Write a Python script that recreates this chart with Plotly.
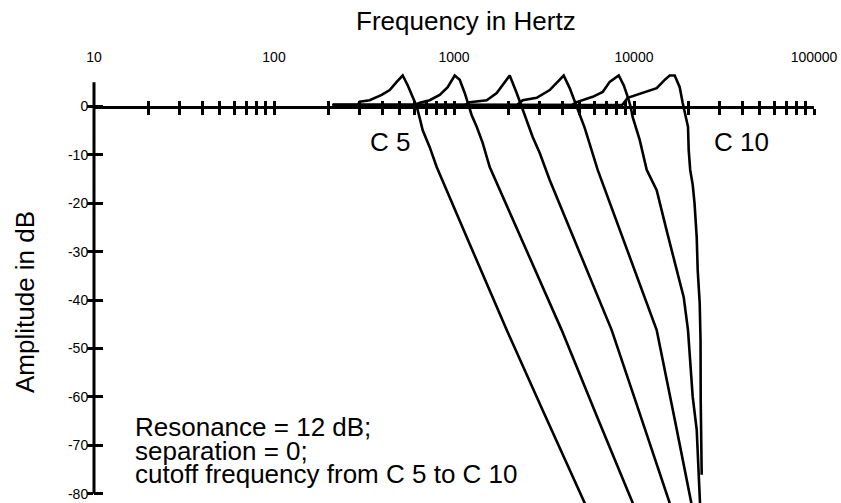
import math
import plotly.graph_objects as go

# ---------------- data ----------------
# Lowpass responses, resonance 12 dB, cutoff stepped from C 5 to C 10
c5_hz = [211.9, 291.7, 299.4, 340.1, 396.5, 439.4, 480.4, 518.8, 553.1, 589.6, 620.6,
         644.9, 670.1, 732.8, 801.4, 1222, 1963, 3191, 5323, 5674]
c5_db = [0.3, 0.3, 1.0, 1.3, 2.4, 3.4, 5.1, 6.4, 4.4, 2.0, 0.0,
         -2.4, -4.9, -8.4, -12.5, -28.4, -46.2, -63.7, -81.9, -84.2]

c6_hz = [211.9, 604.9, 644.9, 732.8, 832.8, 922.6, 1009, 1076, 1147, 1192, 1254,
         1337, 1443, 1579, 2535, 3965, 6285, 9836, 10486]
c6_db = [0.3, 0.3, 0.8, 1.3, 2.4, 4.0, 6.4, 5.5, 2.8, 0.7, -1.8,
         -4.2, -7.5, -12.5, -29.9, -46.2, -64.4, -81.9, -84.4]

c7_hz = [211.9, 1147, 1222, 1520, 1727, 1913, 2039, 2230, 2378, 2535, 2736,
         2994, 3191, 3401, 4993, 7517, 10757, 15791, 16617]
c7_db = [0.3, 0.3, 0.9, 1.3, 2.8, 5.1, 6.4, 2.8, -0.1, -2.8, -6.3,
         -9.6, -12.6, -15.2, -30.2, -46.2, -63.4, -81.9, -84.4]

c8_hz = [211.9, 2239, 2408, 2880, 3401, 3769, 4068, 4393, 4805, 5323, 6285,
         8328, 13366, 16830, 20924, 21466]
c8_db = [0.3, 0.3, 1.3, 1.8, 3.4, 5.1, 6.4, 3.8, -0.1, -4.4, -13.1,
         -25.5, -46.2, -64.6, -81.9, -84.4]

c9_hz = [211.9, 4506, 4805, 5897, 6701, 7328, 8222, 8767, 9226, 9587, 9836,
         10757, 11765, 13366, 15154, 16830, 18885, 19953, 21191, 22305, 23174, 23424]
c9_db = [0.3, 0.3, 0.9, 2.0, 3.0, 5.1, 6.4, 4.4, 2.0, -0.1, -2.2,
         -6.9, -13.1, -17.3, -25.5, -32.3, -39.4, -46.2, -60.0, -66.8, -81.9, -84.4]

c10_hz = [211.9, 8600, 9226, 11178, 13366, 14812, 15791, 16830, 17944, 18647, 19953,
          20135, 20522, 21191, 21682, 22305, 22589, 23174, 23424, 23473, 23773]
c10_db = [0.3, 0.3, 1.8, 2.8, 3.8, 5.5, 6.4, 6.4, 4.0, 0.7, -4.2,
          -9.0, -13.1, -16.2, -19.9, -27.0, -33.8, -40.6, -48.2, -60.6, -76.1]

series = [(c5_hz, c5_db), (c6_hz, c6_db), (c7_hz, c7_db),
          (c8_hz, c8_db), (c9_hz, c9_db), (c10_hz, c10_db)]

x_major = [10, 100, 1000, 10000, 100000]
x_major_labels = ["10", "100", "1000", "10000", "100000"]
x_minor = [m * 10 ** k for k in range(1, 5) for m in range(2, 10)] + [100, 1000, 10000, 100000]
y_ticks = [0, -10, -20, -30, -40, -50, -60, -70, -80]
y_tick_labels = [str(v) for v in y_ticks]

note_lines = ["Resonance = 12 dB;", "separation = 0;", "cutoff frequency from C 5 to C 10"]
note_y_db = [-66.2, -71.1, -75.9]

# ---------------- layout constants ----------------
W, H = 841, 503
PLOT_L, PLOT_R, PLOT_T, PLOT_B = 94, 814, 66, 503        # page pixels
PX_PER_DB = 4.84
ZERO_PX = 106.5
Y_MAX = (ZERO_PX - PLOT_T) / PX_PER_DB
Y_MIN = (ZERO_PX - PLOT_B) / PX_PER_DB
X_RANGE = [1, 5]
FONT = "Liberation Sans, Arial, Helvetica, sans-serif"
BIG = 26
SMALL = 14
zero_pos = (0 - Y_MIN) / (Y_MAX - Y_MIN)


def px_x(p):
    return (p - PLOT_L) / (PLOT_R - PLOT_L)


def px_y(p):
    return (PLOT_B - p) / (PLOT_B - PLOT_T)


fig = go.Figure()
for hz, db in series:
    fig.add_trace(go.Scatter(x=hz, y=db, mode="lines",
                             line=dict(color="black", width=2.6),
                             hoverinfo="skip", showlegend=False))

# empty traces to bind the helper axes
fig.add_trace(go.Scatter(x=[], y=[], xaxis="x2", yaxis="y", showlegend=False))
fig.add_trace(go.Scatter(x=[], y=[], xaxis="x3", yaxis="y", showlegend=False))
fig.add_trace(go.Scatter(x=[], y=[], xaxis="x", yaxis="y2", showlegend=False))

fig.update_layout(
    width=W, height=H,
    margin=dict(l=PLOT_L, r=W - PLOT_R, t=PLOT_T, b=H - PLOT_B),
    paper_bgcolor="white", plot_bgcolor="white",
    font=dict(family=FONT, color="black"),
    showlegend=False,
    xaxis=dict(type="log", range=X_RANGE, side="top", anchor="y",
               showline=False, showgrid=False, zeroline=False, ticks="",
               tickvals=x_major, ticktext=x_major_labels,
               tickfont=dict(size=SMALL, family=FONT, color="black")),
    xaxis2=dict(type="log", range=X_RANGE, overlaying="x", anchor="free",
                position=zero_pos, side="bottom",
                showline=True, linecolor="black", linewidth=3,
                showgrid=False, zeroline=False, showticklabels=False,
                ticks="outside", ticklen=6, tickwidth=2.5, tickcolor="black",
                tickvals=x_minor),
    xaxis3=dict(type="log", range=X_RANGE, overlaying="x", anchor="free",
                position=zero_pos, side="bottom",
                showline=False, showgrid=False, zeroline=False, showticklabels=False,
                ticks="inside", ticklen=6, tickwidth=2.5, tickcolor="black",
                tickvals=x_minor),
    yaxis=dict(range=[Y_MIN, Y_MAX], showline=False, showgrid=False, zeroline=False,
               ticks="outside", ticklen=6, tickwidth=2.5, tickcolor="black",
               tickvals=y_ticks, ticktext=y_tick_labels, ticklabelstandoff=-4,
               tickfont=dict(size=SMALL, family=FONT, color="black")),
    yaxis2=dict(range=[Y_MIN, Y_MAX], overlaying="y", anchor="x", side="left",
                showline=False, showgrid=False, zeroline=False, showticklabels=False,
                ticks="inside", ticklen=9, tickwidth=2.5, tickcolor="black",
                tickvals=y_ticks),
)

# y axis line from -80 to +5 dB
fig.add_shape(type="line", xref="paper", yref="y", x0=0, x1=0, y0=-80, y1=5,
              line=dict(color="black", width=3))

ann = []
ann.append(dict(text="Frequency in Hertz", xref="paper", yref="paper", x=px_x(466), y=px_y(21),
                xanchor="center", yanchor="middle", showarrow=False,
                font=dict(size=BIG, family=FONT, color="black")))
ann.append(dict(text="Amplitude in dB", xref="paper", yref="paper", x=px_x(25), y=px_y(302),
                xanchor="center", yanchor="middle", textangle=-90, showarrow=False,
                font=dict(size=BIG, family=FONT, color="black")))
ann.append(dict(text="C 5", xref="x", yref="y", x=math.log10(440), y=-7.4,
                xanchor="center", yanchor="middle", showarrow=False,
                font=dict(size=BIG, family=FONT, color="black")))
ann.append(dict(text="C 10", xref="x", yref="y", x=math.log10(39650), y=-7.4,
                xanchor="center", yanchor="middle", showarrow=False,
                font=dict(size=BIG, family=FONT, color="black")))
for line, yv in zip(note_lines, note_y_db):
    ann.append(dict(text=line, xref="paper", yref="y", x=px_x(133), y=yv,
                    xanchor="left", yanchor="middle", showarrow=False,
                    font=dict(size=BIG, family=FONT, color="black")))
fig.update_layout(annotations=ann)

# remove the default 8 px page margin so the 841x503 figure fills the window
fig.write_html("out.html",
               config={"displayModeBar": False},
               post_script="document.body.style.margin='0px';"
                           "document.documentElement.style.overflow='hidden';")
